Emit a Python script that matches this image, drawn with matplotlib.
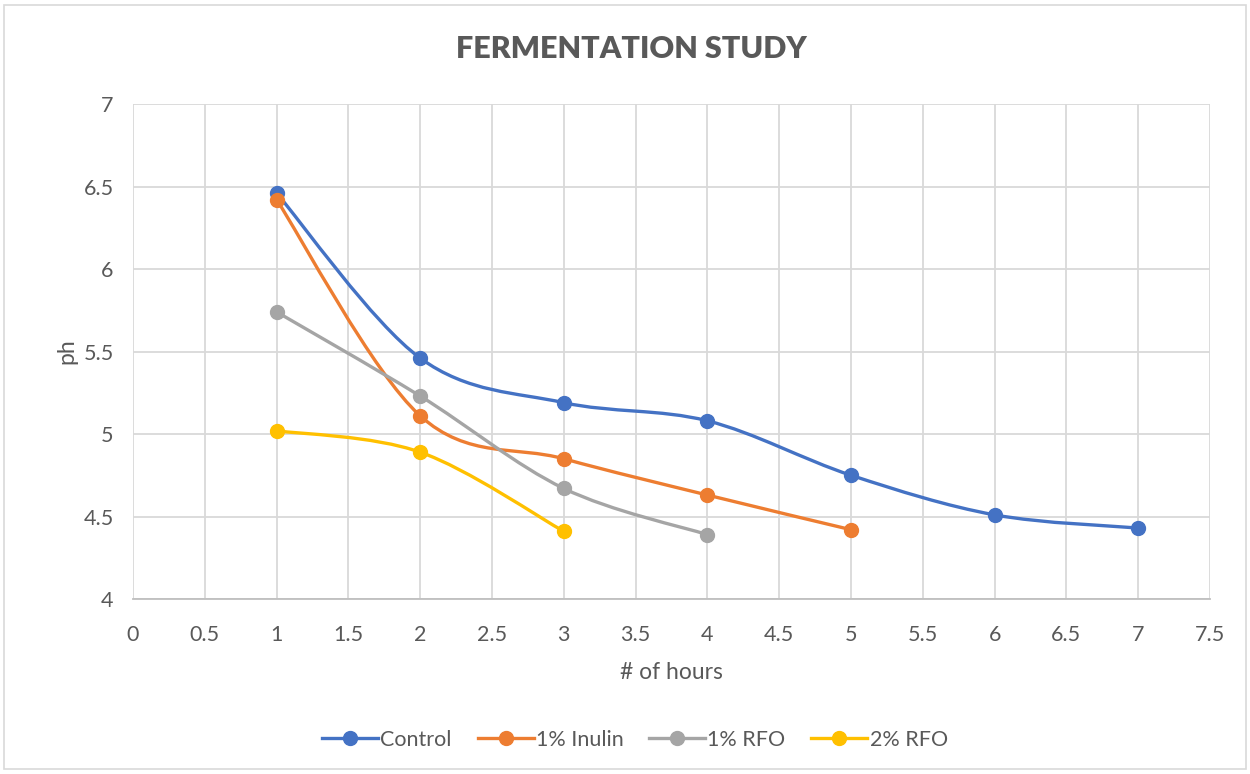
import matplotlib.pyplot as plt
from matplotlib.path import Path
from matplotlib.patches import PathPatch, Rectangle
from matplotlib.lines import Line2D

plt.rcParams['font.family'] = ['Lato', 'DejaVu Sans']

# pH readings per hour for each sample
control_hours = [1, 2, 3, 4, 5, 6, 7]
control_ph = [6.46, 5.46, 5.19, 5.08, 4.75, 4.51, 4.43]

inulin_hours = [1, 2, 3, 4, 5]
inulin_ph = [6.42, 5.11, 4.85, 4.63, 4.42]

rfo1_hours = [1, 2, 3, 4]
rfo1_ph = [5.74, 5.23, 4.67, 4.39]

rfo2_hours = [1, 2, 3]
rfo2_ph = [5.02, 4.89, 4.41]

series_names = ["Control", "1% Inulin", "1% RFO", "2% RFO"]
colors = ["#4472C4", "#ED7D31", "#A5A5A5", "#FFC000"]
text_color = "#595959"


def smooth_path(xs, ys):
    # spreadsheet-style smoothed line: cubic Bezier segments through each point
    pts = list(zip(xs, ys))
    verts = [pts[0]]
    codes = [Path.MOVETO]
    n = len(pts)
    for i in range(n - 1):
        p0 = pts[i - 1] if i > 0 else pts[i]
        p1 = pts[i]
        p2 = pts[i + 1]
        p3 = pts[i + 2] if i + 2 < n else pts[i + 1]
        c1 = (p1[0] + (p2[0] - p0[0]) / 6, p1[1] + (p2[1] - p0[1]) / 6)
        c2 = (p2[0] - (p3[0] - p1[0]) / 6, p2[1] - (p3[1] - p1[1]) / 6)
        verts += [c1, c2, p2]
        codes += [Path.CURVE4] * 3
    return Path(verts, codes)


fig = plt.figure(figsize=(12.5, 7.74), dpi=100)
ax = fig.add_axes([0.1064, 0.2261, 0.8616, 0.6395])

data = [(control_hours, control_ph), (inulin_hours, inulin_ph),
        (rfo1_hours, rfo1_ph), (rfo2_hours, rfo2_ph)]
handles = []
for k, ((xs, ys), name, c) in enumerate(zip(data, series_names, colors)):
    ax.add_patch(PathPatch(smooth_path(xs, ys), facecolor="none", edgecolor=c,
                           lw=2.4, capstyle="round", joinstyle="round", zorder=3 + k))
    ax.plot(xs, ys, ls="none", marker="o", ms=10, color=c, zorder=3 + k)
    handles.append(Line2D([], [], color=c, lw=2.4, marker="o", ms=10))

ax.set_xlim(0, 7.5)
ax.set_ylim(4, 7)
ax.set_xticks([i * 0.5 for i in range(16)])
ax.set_xticklabels(["0", "0.5", "1", "1.5", "2", "2.5", "3", "3.5", "4", "4.5",
                    "5", "5.5", "6", "6.5", "7", "7.5"])
ax.set_yticks([4, 4.5, 5, 5.5, 6, 6.5, 7])
ax.set_yticklabels(["4", "4.5", "5", "5.5", "6", "6.5", "7"])
ax.grid(True, color="#D9D9D9", lw=1.3)
ax.set_axisbelow(True)
for s in ["top", "right", "left"]:
    ax.spines[s].set_visible(False)
ax.spines["bottom"].set_color("#BFBFBF")
ax.spines["bottom"].set_linewidth(1.3)
ax.tick_params(length=0, labelsize=15.5, colors=text_color)
ax.tick_params(axis="x", pad=19)
ax.tick_params(axis="y", pad=14)

ax.set_xlabel("# of hours", fontsize=16.5, color=text_color, labelpad=12)
ax.set_ylabel("ph", fontsize=16.5, color=text_color, labelpad=4)
fig.text(0.505, 0.937, "FERMENTATION STUDY", ha="center", va="center",
         fontsize=22, fontweight="heavy", color=text_color)

fig.legend(handles, series_names, loc="center", bbox_to_anchor=(0.508, 0.044),
           ncol=4, frameon=False, fontsize=15.5, labelcolor=text_color,
           handlelength=2.6, handletextpad=0.1, columnspacing=1.2)

fig.add_artist(Rectangle((0.003, 0.006), 0.994, 0.988, transform=fig.transFigure,
                         fill=False, edgecolor="#D9D9D9", lw=1.2))

fig.savefig("out.png", dpi=100)
